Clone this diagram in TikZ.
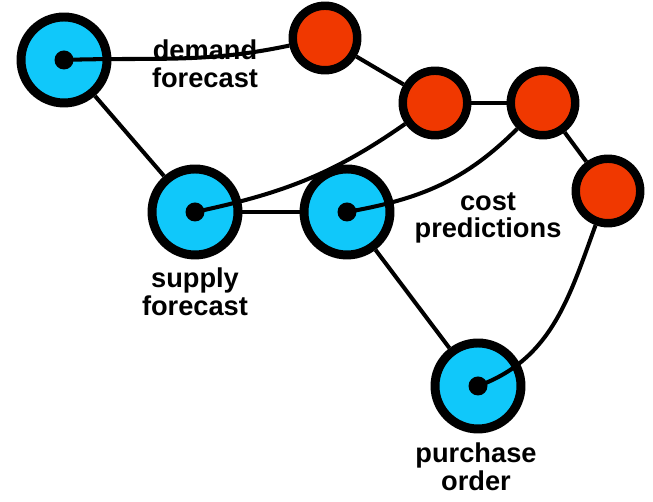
\documentclass[tikz,border=0pt]{standalone}
\usepackage{fontspec}
\setmainfont{Liberation Sans}
\usetikzlibrary{positioning}
\definecolor{nodeblue}{RGB}{16,200,250}
\definecolor{nodered}{RGB}{240,56,0}
\tikzset{
    bignode/.style={circle, draw, line width=5.1pt, fill=nodeblue, minimum size=1.72cm, inner sep=0pt},
    smallnode/.style={circle, draw, line width=4.8pt, fill=nodered, minimum size=1.29cm, inner sep=0pt},
    link/.style={line width=2.3pt},
    lbl/.style={align=center, inner sep=0pt, font=\fontsize{15.5}{15.8}\selectfont\bfseries}
}

\begin{document}
\begin{tikzpicture}[x=0.02cm, y=0.02cm]
                    \useasboundingbox (0,0) rectangle (653,502);

                    \node[bignode] (dem) at (64, 442) {};
                    \node[bignode] (sup) at (195, 290) {};
                    \node[bignode] (cost) at (347, 290) {};
                    \node[bignode] (pur) at (478, 116) {};
                    \node[smallnode] (r1) at (325, 464) {};
                    \node[smallnode] (r2) at (435, 399) {};
                    \node[smallnode] (r3) at (543, 399) {};
                    \node[smallnode] (r4) at (608, 311) {};

                    \draw[link]
                    (dem) edge (sup)
                    (sup) edge (cost)
                    (cost) edge (pur)
                    (r1) edge (r2)
                    (r2) edge (r3)
                    (r3) edge (r4)
                    (dem.center) edge[out=2, in=192] (r1)
                    (sup.center) edge[out=12, in=215] (r2)
                    (cost.center) edge[out=10, in=225] (r3)
                    (pur.center) edge[out=20, in=250] (r4);

                    \foreach \n in {dem, sup, cost, pur}
                        \fill (\n.center) circle (0.19cm);

                    \node[lbl] (demlbl) at (205, 438.5) {demand\\forecast};
                    \node[lbl] (suplbl) at (195, 210) {supply\\forecast};
                    \node[lbl] (costlbl) at (488, 284) {cost\\predictions};
                    \node[lbl] (purlbl) at (476, 35) {purchase\\order};
                \end{tikzpicture}
\end{document}
